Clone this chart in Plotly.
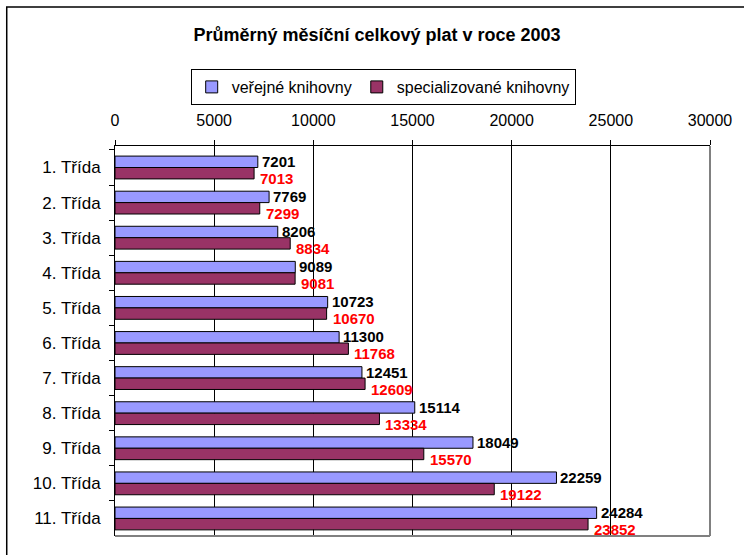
import plotly.graph_objects as go

categories = ['1. Třída', '2. Třída', '3. Třída', '4. Třída', '5. Třída', '6. Třída',
              '7. Třída', '8. Třída', '9. Třída', '10. Třída', '11. Třída']
verejne = [7201, 7769, 8206, 9089, 10723, 11300, 12451, 15114, 18049, 22259, 24284]
specializovane = [7013, 7299, 8834, 9081, 10670, 11768, 12609, 13334, 15570, 19122, 23852]
x_ticks = [0, 5000, 10000, 15000, 20000, 25000, 30000]
x_tick_labels = ['0', '5000', '10000', '15000', '20000', '25000', '30000']

font_family = 'Liberation Sans, Arial, sans-serif'

fig = go.Figure()
fig.add_trace(go.Bar(y=categories, x=verejne, orientation='h', name='veřejné knihovny',
                     marker=dict(color='#9999FF', line=dict(color='black', width=1))))
fig.add_trace(go.Bar(y=categories, x=specializovane, orientation='h', name='specializované knihovny',
                     marker=dict(color='#993366', line=dict(color='black', width=1))))

# value labels
annotations = []
for cat, v in zip(categories, verejne):
    annotations.append(dict(x=v, y=cat, xref='x', yref='y', text=str(v), showarrow=False,
                            xanchor='left', yanchor='middle', xshift=2, yshift=6,
                            font=dict(family=font_family, size=15, color='black', weight='bold')))
for cat, v in zip(categories, specializovane):
    annotations.append(dict(x=v, y=cat, xref='x', yref='y', text=str(v), showarrow=False,
                            xanchor='left', yanchor='middle', xshift=4, yshift=-11,
                            font=dict(family=font_family, size=15, color='red', weight='bold')))

shapes = [
    # right and bottom plot-area border (grey)
    dict(type='line', xref='paper', yref='paper', x0=1, x1=1, y0=0, y1=1,
         line=dict(color='#808080', width=2)),
    dict(type='line', xref='paper', yref='paper', x0=0, x1=1, y0=0, y1=0,
         line=dict(color='#808080', width=2)),
    # outer chart frame
    dict(type='rect', xref='paper', yref='paper', x0=(6 - 115) / 599, x1=1.2,
         y0=-0.2, y1=(536 - 7) / 390, line=dict(color='black', width=1.5)),
]

fig.update_layout(
    width=744, height=555,
    margin=dict(l=115, r=30, t=146, b=19),
    paper_bgcolor='white', plot_bgcolor='white',
    font=dict(family=font_family, size=16, color='black'),
    title=dict(text='<b>Průměrný měsíční celkový plat v roce 2003</b>',
               x=377 / 744, xanchor='center', xref='container',
               y=1 - 35 / 555, yanchor='middle', yref='container',
               font=dict(size=18, family=font_family)),
    barmode='group', bargap=0.35, bargroupgap=0,
    showlegend=True,
    legend=dict(orientation='h', x=(385 - 115) / 599, xanchor='center',
                y=(536 - 69) / 390, yanchor='top',
                bordercolor='black', borderwidth=1, bgcolor='white',
                font=dict(size=16), traceorder='normal',
                itemwidth=30, tracegroupgap=0),
    xaxis=dict(side='top', range=[0, 30000], tickvals=x_ticks, ticktext=x_tick_labels,
               showgrid=True, gridcolor='black', gridwidth=1,
               showline=True, linecolor='black', linewidth=1,
               ticks='outside', ticklen=5, tickcolor='black',
               ticklabelstandoff=8, zeroline=False,
               tickfont=dict(size=16)),
    yaxis=dict(autorange='reversed', showline=True, linecolor='black', linewidth=1,
               ticks='outside', ticklen=5, tickcolor='black', tickson='boundaries',
               showgrid=False, ticklabelstandoff=10, tickfont=dict(size=17)),
    annotations=annotations,
    shapes=shapes,
)

fig.write_html('out.html', config={'displayModeBar': False},
               post_script="document.body.style.margin='0';")
